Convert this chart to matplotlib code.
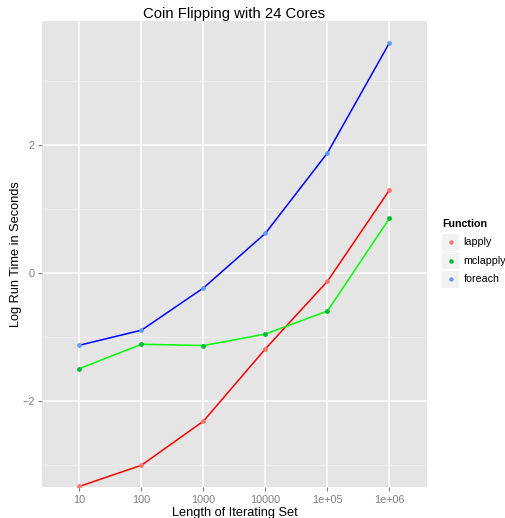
import matplotlib
matplotlib.use("Agg")
import matplotlib.pyplot as plt
from matplotlib.patches import Rectangle
import numpy as np

plt.rcParams["font.family"] = ["Liberation Sans", "DejaVu Sans"]

categories = ["10", "100", "1000", "10000", "1e+05", "1e+06"]
lapply = [-3.33, -3.00, -2.31, -1.18, -0.125, 1.30]
mclapply = [-1.49, -1.11, -1.13, -0.95, -0.59, 0.86]
foreach = [-1.125, -0.89, -0.23, 0.625, 1.88, 3.60]

names = ["lapply", "mclapply", "foreach"]
values = [lapply, mclapply, foreach]
line_colors = ["#FF0000", "#00FF00", "#0000FF"]
point_colors = ["#F8766D", "#00BA38", "#619CFF"]

W, H = 506, 518
fig = plt.figure(figsize=(W / 100, H / 100), dpi=100)
L, R, T, B = 42.3, 426.7, 21, 487
ax = fig.add_axes([L / W, (H - B) / H, (R - L) / W, (B - T) / H])
ax.set_facecolor("#E5E5E5")

x = np.arange(1, len(categories) + 1)
for vals, lc, pc in zip(values, line_colors, point_colors):
    ax.plot(x, vals, color=lc, lw=1.1, zorder=3)
    ax.scatter(x, vals, color=pc, s=12, zorder=4, linewidths=0)

ax.set_xlim(0.4, 6.6)
ax.set_ylim(-3.34, 3.94)
ax.set_xticks(x)
ax.set_xticklabels(categories)
ax.set_yticks([-2, 0, 2])
ax.set_yticks([-3, -1, 1, 3], minor=True)
ax.grid(True, which="major", color="white", lw=1.1, zorder=1)
ax.grid(True, which="minor", axis="y", color="#F2F2F2", lw=0.55, zorder=1)
ax.set_axisbelow(True)
for s in ax.spines.values():
    s.set_visible(False)
ax.tick_params(axis="both", which="major", colors="#7F7F7F", labelcolor="#7F7F7F",
               labelsize=7.8, length=3, width=0.8, pad=2.5)
ax.tick_params(axis="y", which="minor", length=0)

ax.set_xlabel("Length of Iterating Set", fontsize=9.2, labelpad=1.5)
ax.set_ylabel("Log Run Time in Seconds", fontsize=9.2, labelpad=0.5)
ax.set_title("Coin Flipping with 24 Cores", fontsize=10.7, pad=2.5)

# legend (ggplot-style keys)
def fx(px):
    return px / W

def fy(py):
    return 1 - py / H

fig.text(fx(442), fy(224), "Function", fontsize=7.7, fontweight="bold",
         ha="left", va="center")
key_y = [242.3, 260.8, 279.3]
for name, pc, ky in zip(names, point_colors, key_y):
    fig.patches.append(Rectangle((fx(442), fy(ky + 8.6)), 17.3 / W, 17.3 / H,
                                 transform=fig.transFigure, facecolor="#F2F2F2",
                                 edgecolor="none"))
    fig.add_artist(plt.Line2D([fx(450.8)], [fy(ky)], marker="o", markersize=3.2,
                              color=pc, markeredgewidth=0, ls="",
                              transform=fig.transFigure))
    fig.text(fx(463.3), fy(ky), name, fontsize=7.7, ha="left", va="center")

fig.savefig("out.png", dpi=100)
